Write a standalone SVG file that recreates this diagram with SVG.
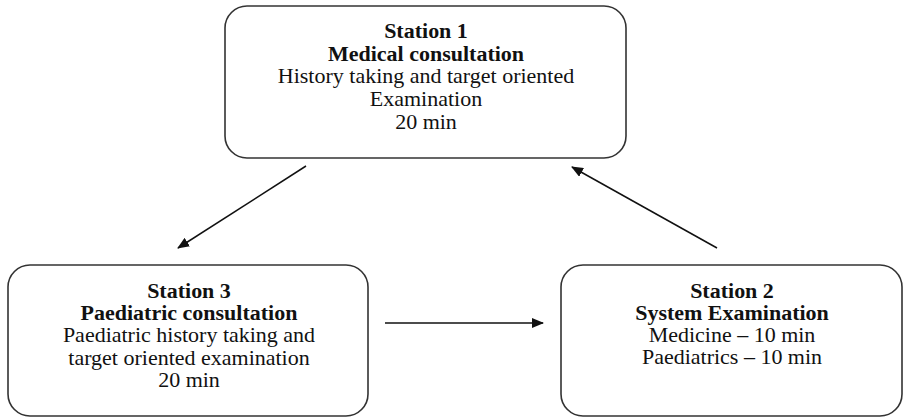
<svg xmlns="http://www.w3.org/2000/svg" width="905" height="419" viewBox="0 0 905 419">
<style>
.box{fill:#fff;stroke:#333;stroke-width:1.6}
.t{font-family:"Liberation Serif","Times New Roman",serif;font-size:20px;fill:#111;text-anchor:middle}
.b{font-weight:bold}
.c{stroke:#111;stroke-width:1.5;fill:none;marker-end:url(#ah)}
</style>
<defs>
<marker id="ah" viewBox="0 0 12 10" refX="11" refY="5" markerWidth="12" markerHeight="10" markerUnits="userSpaceOnUse" orient="auto">
<path d="M0,0 L12,5 L0,10 Z" fill="#111"/>
</marker>
</defs>
<rect width="905" height="419" fill="#fff"/>
<g id="station1">
<rect class="box" x="225" y="6" width="401" height="152" rx="22"/>
<g transform="translate(426 0) scale(1.1 1)">
<text class="t b" x="0" y="38">Station 1</text>
<text class="t b" x="0" y="61">Medical consultation</text>
<text class="t" x="0" y="83">History taking and target oriented</text>
<text class="t" x="0" y="106">Examination</text>
<text class="t" x="0" y="129">20 min</text>
</g>
</g>
<g id="station3">
<rect class="box" x="8" y="265" width="360" height="151" rx="22"/>
<g transform="translate(189 0) scale(1.1 1)">
<text class="t b" x="0" y="298">Station 3</text>
<text class="t b" x="0" y="320">Paediatric consultation</text>
<text class="t" x="0" y="342">Paediatric history taking and</text>
<text class="t" x="0" y="365">target oriented examination</text>
<text class="t" x="0" y="387">20 min</text>
</g>
</g>
<g id="station2">
<rect class="box" x="561" y="265" width="341" height="151" rx="22"/>
<g transform="translate(732 0) scale(1.1 1)">
<text class="t b" x="0" y="298">Station 2</text>
<text class="t b" x="0" y="320">System Examination</text>
<text class="t" x="0" y="342">Medicine – 10 min</text>
<text class="t" x="0" y="364">Paediatrics – 10 min</text>
</g>
</g>
<g id="connectors">
<line class="c" x1="306" y1="166" x2="178" y2="248"/>
<line class="c" x1="717" y1="248" x2="572" y2="167"/>
<line class="c" x1="385" y1="323" x2="543" y2="323"/>
</g>
</svg>
